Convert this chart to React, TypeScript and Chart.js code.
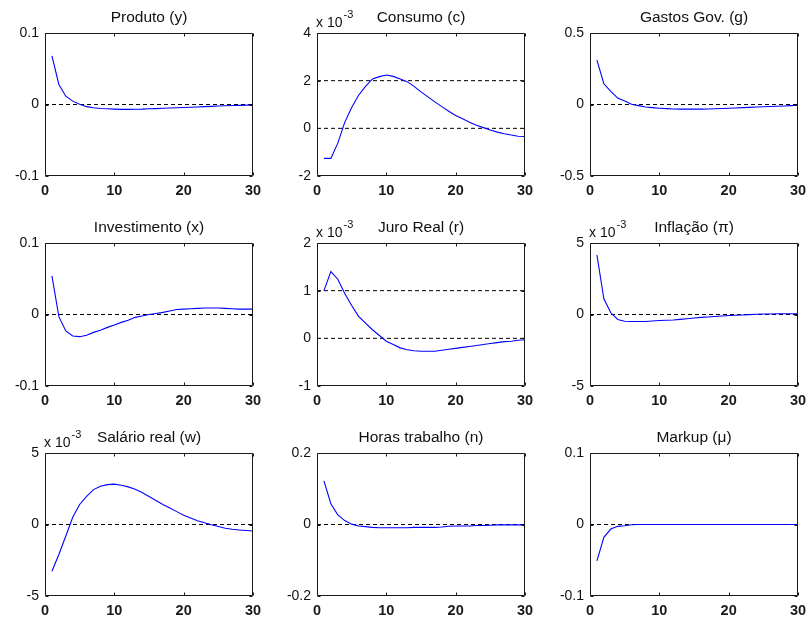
import React, { useEffect, useRef } from "react";
import { Chart, registerables } from "chart.js";

Chart.register(...registerables);

// Horizon of the impulse responses (quarters after the shock)
const periods = [1, 2, 3, 4, 5, 6, 7, 8, 9, 10, 11, 12, 13, 14, 15, 16, 17, 18, 19, 20, 21, 22, 23, 24, 25, 26, 27, 28, 29, 30];

const produto = [0.068, 0.028, 0.0116, 0.0047, 0.0005, -0.003, -0.0045, -0.0055, -0.006, -0.0065, -0.0068, -0.0068, -0.0067, -0.0065, -0.006, -0.0057, -0.0053, -0.005, -0.0046, -0.0042, -0.0038, -0.0034, -0.003, -0.0026, -0.0022, -0.0018, -0.0015, -0.0012, -0.0009, -0.0007];

// Consumo, in units of 10^-3
const consumo = [-1.26, -1.26, -0.62, 0.25, 0.87, 1.39, 1.76, 2.07, 2.17, 2.24, 2.18, 2.07, 1.96, 1.76, 1.53, 1.32, 1.11, 0.91, 0.72, 0.54, 0.4, 0.26, 0.13, 0.03, -0.07, -0.16, -0.23, -0.28, -0.33, -0.34];

const gastos = [0.31, 0.145, 0.092, 0.045, 0.024, 0.002, -0.008, -0.017, -0.022, -0.026, -0.029, -0.031, -0.032, -0.032, -0.032, -0.032, -0.031, -0.03, -0.028, -0.026, -0.024, -0.022, -0.02, -0.018, -0.016, -0.014, -0.012, -0.01, -0.008, -0.005];

const investimento = [0.054, -0.003, -0.023, -0.03, -0.031, -0.029, -0.025, -0.022, -0.018, -0.0146, -0.011, -0.008, -0.004, -0.002, 0.0, 0.0014, 0.003, 0.005, 0.007, 0.0075, 0.008, 0.0085, 0.009, 0.009, 0.009, 0.0085, 0.008, 0.0075, 0.0075, 0.0075];

// Juro real, in units of 10^-3
const juroReal = [1.0, 1.4, 1.24, 0.94, 0.69, 0.46, 0.32, 0.18, 0.06, -0.06, -0.13, -0.2, -0.24, -0.26, -0.27, -0.27, -0.27, -0.25, -0.23, -0.21, -0.19, -0.17, -0.15, -0.13, -0.11, -0.09, -0.07, -0.06, -0.04, -0.03];

// Inflação, in units of 10^-3
const inflacao = [4.16, 1.1, 0.12, -0.35, -0.47, -0.49, -0.49, -0.49, -0.45, -0.42, -0.4, -0.38, -0.34, -0.3, -0.25, -0.2, -0.17, -0.14, -0.1, -0.07, -0.05, -0.03, -0.01, 0.02, 0.03, 0.04, 0.05, 0.05, 0.05, 0.05];

// Salário real, in units of 10^-3
const salario = [-3.27, -2.1, -0.8, 0.5, 1.4, 1.96, 2.44, 2.67, 2.79, 2.82, 2.75, 2.63, 2.46, 2.23, 1.96, 1.68, 1.4, 1.16, 0.9, 0.64, 0.45, 0.26, 0.12, -0.02, -0.14, -0.26, -0.33, -0.38, -0.42, -0.45];

const horas = [0.122, 0.058, 0.027, 0.011, 0.001, -0.004, -0.006, -0.008, -0.009, -0.009, -0.009, -0.009, -0.009, -0.008, -0.008, -0.008, -0.008, -0.007, -0.005, -0.004, -0.004, -0.004, -0.003, -0.003, -0.002, -0.001, -0.001, -0.001, -0.001, -0.001];

const markup = [-0.051, -0.018, -0.0064, -0.0026, -0.0017, -0.0003, 0, 0, 0, 0, 0, 0, 0, 0, 0, 0, 0, 0, 0, 0, 0, 0, 0, 0, 0, 0, 0, 0, 0, 0];

const titles = ["Produto (y)", "Consumo (c)", "Gastos Gov. (g)", "Investimento (x)", "Juro Real (r)", "Inflação (π)", "Salário real (w)", "Horas trabalho (n)", "Markup (μ)"];
const series = [produto, consumo, gastos, investimento, juroReal, inflacao, salario, horas, markup];
const yLimits = [[-0.1, 0.1], [-2, 4], [-0.5, 0.5], [-0.1, 0.1], [-1, 2], [-5, 5], [-5, 5], [-0.2, 0.2], [-0.1, 0.1]];
const yStep = [0.1, 2, 0.5, 0.1, 1, 5, 5, 0.2, 0.1];
const dashedLevels = [[0], [0, 2], [0], [0], [0, 1], [0], [0], [0], [0]];
const scaled = [false, true, false, false, true, true, true, false, false];
const xTicks = [0, 10, 20, 30];

const FONT = "'Liberation Sans', Arial, Helvetica, sans-serif";

// Axes box geometry on the page
const COL_LEFT = [45, 317, 590];
const ROW_TOP = [33, 243, 453];
const BOX_W = 208;
const BOX_H = 143;
const PAD_LEFT = 45;
const PAD_TOP = 42;
const PAD_RIGHT = 10;
const PAD_BOTTOM = 28;

type PanelProps = { index: number };

function Panel({ index }: PanelProps) {
  const ref = useRef<HTMLCanvasElement | null>(null);

  useEffect(() => {
    const canvas = ref.current;
    if (!canvas) return;
    const values = series[index];
    const [yMin, yMax] = yLimits[index];
    const title = titles[index];
    const hasExp = scaled[index];

    const boxPlugin = {
      id: "matlabBox",
      afterDatasetsDraw(chart: any) {
        const { ctx, chartArea } = chart;
        const { left, right, top, bottom } = chartArea;
        const xs = chart.scales.x;
        const ys = chart.scales.y;
        ctx.save();
        ctx.strokeStyle = "#1a1a1a";
        ctx.lineWidth = 1;
        ctx.beginPath();
        const L = Math.round(left) + 0.5;
        const R = Math.round(right) - 0.5;
        const T = Math.round(top) + 0.5;
        const B = Math.round(bottom) - 0.5;
        ctx.rect(L, T, R - L, B - T);
        const tl = 3;
        xs.ticks.forEach((t: any) => {
          const px = Math.round(xs.getPixelForValue(t.value)) + 0.5;
          ctx.moveTo(px, B);
          ctx.lineTo(px, B - tl);
          ctx.moveTo(px, T);
          ctx.lineTo(px, T + tl);
        });
        ys.ticks.forEach((t: any) => {
          const py = Math.round(ys.getPixelForValue(t.value)) + 0.5;
          ctx.moveTo(L, py);
          ctx.lineTo(L + tl, py);
          ctx.moveTo(R, py);
          ctx.lineTo(R - tl, py);
        });
        ctx.stroke();
        ctx.restore();
      },
      afterDraw(chart: any) {
        const { ctx, chartArea } = chart;
        const { left, right, top } = chartArea;
        ctx.save();
        ctx.fillStyle = "#111";
        ctx.textAlign = "center";
        ctx.textBaseline = "alphabetic";
        ctx.font = `15.5px ${FONT}`;
        ctx.fillText(title, (left + right) / 2, top - 11);
        if (hasExp) {
          ctx.textAlign = "left";
          ctx.font = `14px ${FONT}`;
          const base = "x 10";
          ctx.fillText(base, left - 1, top - 6);
          const w = ctx.measureText(base).width;
          ctx.font = `11px ${FONT}`;
          ctx.fillText("-3", left - 1 + w + 1, top - 15);
        }
        ctx.restore();
      },
    };

    const datasets: any[] = [
      {
        data: periods.map((p, i) => ({ x: p, y: values[i] })),
        borderColor: "#0000ff",
        borderWidth: 1.1,
        pointRadius: 0,
        tension: 0,
        order: 0,
      },
      ...dashedLevels[index].map((lvl) => ({
        data: [
          { x: xTicks[0], y: lvl },
          { x: xTicks[xTicks.length - 1], y: lvl },
        ],
        borderColor: "#000000",
        borderWidth: 1,
        borderDash: [4, 3],
        pointRadius: 0,
        order: 1,
      })),
    ];

    const chart = new Chart(canvas, {
      type: "line",
      data: { datasets },
      plugins: [boxPlugin],
      options: {
        animation: false,
        responsive: false,
        devicePixelRatio: 1,
        events: [],
        layout: { padding: { left: 0, top: PAD_TOP, right: PAD_RIGHT, bottom: 0 } },
        plugins: {
          legend: { display: false },
          tooltip: { enabled: false },
          title: { display: false },
        },
        scales: {
          x: {
            type: "linear",
            min: xTicks[0],
            max: xTicks[xTicks.length - 1],
            grid: { display: false, drawTicks: false },
            border: { display: false },
            ticks: {
              stepSize: 10,
              autoSkip: false,
              maxRotation: 0,
              padding: 6,
              color: "#1a1a1a",
              font: { family: FONT, size: 14.5, weight: "bold" },
              callback: (v: any) => String(v),
            },
            afterFit(scale: any) {
              scale.height = PAD_BOTTOM;
              scale.paddingLeft = 0;
              scale.paddingRight = 0;
            },
          },
          y: {
            type: "linear",
            min: yMin,
            max: yMax,
            grid: { display: false, drawTicks: false },
            border: { display: false },
            ticks: {
              stepSize: yStep[index],
              autoSkip: false,
              padding: 6,
              color: "#111",
              font: { family: FONT, size: 14 },
              callback: (v: any) => String(Math.round(Number(v) * 1000) / 1000),
            },
            afterFit(scale: any) {
              scale.width = PAD_LEFT;
              scale.paddingTop = 0;
              scale.paddingBottom = 0;
            },
          },
        },
      } as any,
    });

    return () => chart.destroy();
  }, [index]);

  const col = index % 3;
  const row = Math.floor(index / 3);
  const w = BOX_W + PAD_LEFT + PAD_RIGHT;
  const h = BOX_H + PAD_TOP + PAD_BOTTOM;
  return (
    <canvas
      ref={ref}
      width={w}
      height={h}
      style={{
        position: "absolute",
        left: COL_LEFT[col] - PAD_LEFT,
        top: ROW_TOP[row] - PAD_TOP,
        width: w,
        height: h,
      }}
    />
  );
}

export default function App() {
  return (
    <div
      style={{
        position: "fixed",
        left: 0,
        top: 0,
        width: 808,
        height: 619,
        background: "#ffffff",
        overflow: "hidden",
      }}
    >
      {titles.map((_, i) => (
        <Panel key={i} index={i} />
      ))}
    </div>
  );
}
